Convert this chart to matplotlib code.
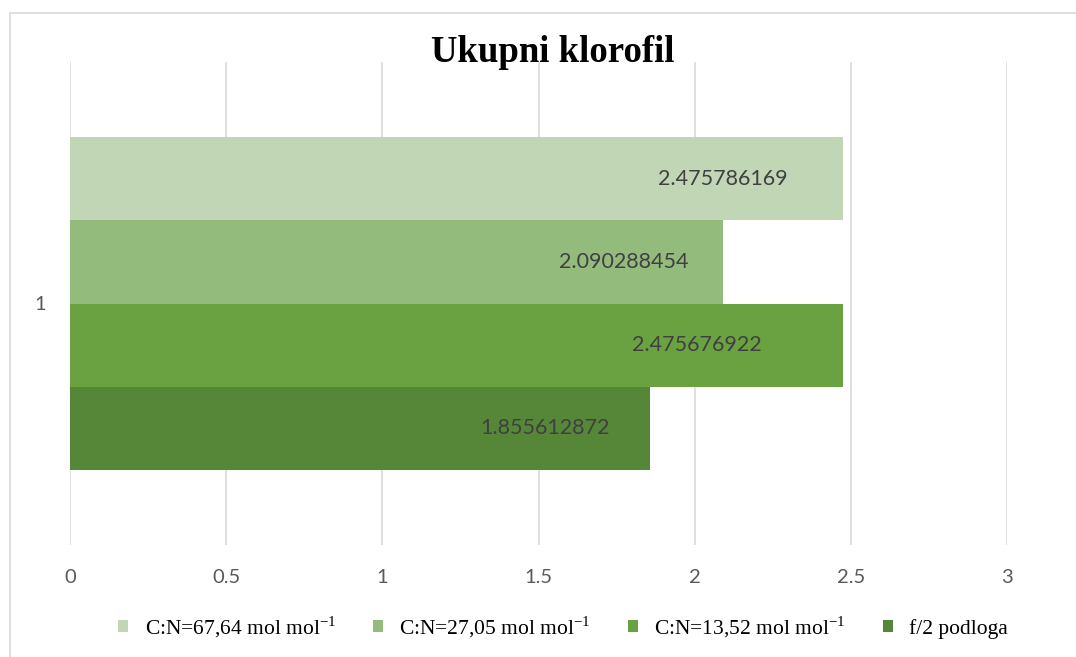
import matplotlib
matplotlib.use("Agg")
import matplotlib.pyplot as plt
from matplotlib.patches import Rectangle

# ----------------------------
# Data
# ----------------------------

series_names = [
    r"C:N=67,64 mol mol$^{\mathrm{-1}}$",
    r"C:N=27,05 mol mol$^{\mathrm{-1}}$",
    r"C:N=13,52 mol mol$^{\mathrm{-1}}$",
    "f/2 podloga",
]
values = [2.475786169, 2.090288454, 2.475676922, 1.855612872]
category = "1"
x_ticks = [0, 0.5, 1, 1.5, 2, 2.5, 3]
x_tick_labels = ["0", "0.5", "1", "1.5", "2", "2.5", "3"]

colors = ["#C1D6B5", "#93BB7C", "#6AA242", "#568638"]
label_shift = [0.385, 0.316, 0.468, 0.334]   # data labels were hand-placed in the source

plt.rcParams["mathtext.fontset"] = "custom"
plt.rcParams["mathtext.rm"] = "Liberation Serif"

# ----------------------------
# Figure
# ----------------------------

fig = plt.figure(figsize=(10.76, 6.57), dpi=100)
ax = fig.add_axes([70 / 1076, 1 - 545 / 657, 937 / 1076, 483 / 657])

# outer chart border (only top/left visible in the crop)
fig.patches.append(Rectangle((10 / 1076, -0.1), 1.2, 1 - 13 / 657 + 0.1,
                             transform=fig.transFigure, fill=False,
                             edgecolor="#D9D9D9", lw=1.2))

bar_h = 0.1725
n = len(values)
for i, (v, c, name) in enumerate(zip(values, colors, series_names)):
    y = (n - 1) / 2 * bar_h - i * bar_h
    ax.barh(y, v, height=bar_h, color=c, label=name, zorder=2)
    ax.text(v - label_shift[i], y, f"{v:.9f}", ha="center", va="center",
            fontsize=15.5, color="#404040", family="Lato", zorder=3)

ax.set_xlim(0, 3)
ax.set_ylim(-0.5, 0.5)
ax.set_xticks(x_ticks)
ax.set_xticklabels(x_tick_labels, family="Lato", fontsize=14.5, color="#595959")
ax.set_yticks([0])
ax.set_yticklabels([category], family="Lato", fontsize=14.5, color="#595959")
ax.tick_params(axis="x", length=0, pad=17)
ax.tick_params(axis="y", length=0, pad=17)
ax.grid(axis="x", color="#D9D9D9", lw=1.2, zorder=0)
for s in ax.spines.values():
    s.set_visible(False)

fig.text(553 / 1076, 1 - 52 / 657, "Ukupni klorofil", ha="center", va="center",
         family="Liberation Serif", fontweight="bold", fontsize=26.5)

fig.legend(loc="center", bbox_to_anchor=(563 / 1076, 1 - 627 / 657), ncol=4,
           frameon=False, prop={"family": "Liberation Serif", "size": 15.5},
           handlelength=0.48, handleheight=0.48, handletextpad=0.75,
           columnspacing=1.72)

fig.savefig("out.png", dpi=100, facecolor="white")
plt.close(fig)
